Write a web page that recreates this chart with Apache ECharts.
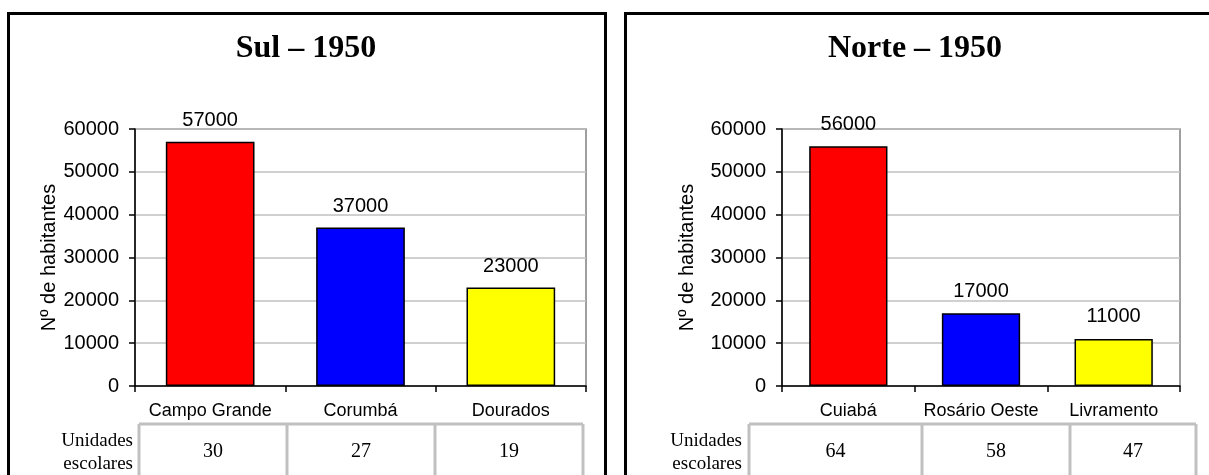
<!DOCTYPE html>
<html>
<head>
<meta charset="utf-8">
<script src="https://cdn.jsdelivr.net/npm/echarts@6/dist/echarts.min.js"></script>
<style>
  html, body { margin: 0; padding: 0; background: #fff; }
  #chart { width: 1209px; height: 475px; }
</style>
</head>
<body>
<div id="chart"></div>
<script>
// Population of the main towns, 1950, with number of schools per town
const sulTitle = 'Sul – 1950';
const norteTitle = 'Norte – 1950';
const sulCities = ['Campo Grande', 'Corumbá', 'Dourados'];
const sulPop = [57000, 37000, 23000];
const sulSchools = [30, 27, 19];
const norteCities = ['Cuiabá', 'Rosário Oeste', 'Livramento'];
const nortePop = [56000, 17000, 11000];
const norteSchools = [64, 58, 47];
const barColors = ['#ff0000', '#0000ff', '#ffff00'];
const yAxisName = 'Nº de habitantes';
const rowHeader = ['Unidades', 'escolares'];

const SANS = '"Liberation Sans", Arial, sans-serif';
const SERIF = '"Liberation Serif", "Times New Roman", serif';

const chart = echarts.init(document.getElementById('chart'), null, { renderer: 'canvas' });

function yAxis(gridIndex, nameGap) {
  return {
    type: 'value', gridIndex, min: 0, max: 60000, interval: 10000,
    name: yAxisName, nameLocation: 'middle', nameRotate: 90, nameGap,
    nameTextStyle: { fontFamily: SANS, fontSize: 20, color: '#000' },
    axisLine: { show: true, lineStyle: { color: '#000', width: 1.5 } },
    axisTick: { show: true, length: 6, lineStyle: { color: '#000', width: 1.5 } },
    axisLabel: { fontFamily: SANS, fontSize: 20, color: '#000', margin: 16, formatter: v => String(v) },
    splitLine: { show: true, lineStyle: { color: '#c0c0c0', width: 1.5 } }
  };
}

function xAxis(gridIndex, cats) {
  return {
    type: 'category', gridIndex, data: cats,
    axisLine: { show: true, lineStyle: { color: '#000', width: 1.5 } },
    axisTick: { show: true, length: 6, alignWithLabel: false, lineStyle: { color: '#000', width: 1.5 } },
    axisLabel: { fontFamily: SANS, fontSize: 18, color: '#000', margin: 16, interval: 0 }
  };
}

function barSeries(idx, values, dist) {
  return {
    type: 'bar', xAxisIndex: idx, yAxisIndex: idx,
    barCategoryGap: '41%',
    data: values.map((v, i) => ({ value: v, itemStyle: { color: barColors[i] } })),
    itemStyle: { borderColor: '#000', borderWidth: 1.5 },
    label: { show: true, position: 'top', distance: dist, fontFamily: SANS, fontSize: 20, color: '#000' },
    animation: false
  };
}

// Table under each chart: header cell on the left, one cell per town
function tableGraphics(cols, top, schools, headerRight) {
  const els = [];
  const stroke = { stroke: '#c0c0c0', lineWidth: 3 };
  const bottom = 490;
  els.push({ type: 'line', shape: { x1: cols[0], y1: top, x2: cols[cols.length - 1], y2: top }, style: stroke });
  cols.forEach(cx => {
    els.push({ type: 'line', shape: { x1: cx, y1: top, x2: cx, y2: bottom }, style: stroke });
  });
  schools.forEach((n, i) => {
    els.push({
      type: 'text', x: (cols[i] + cols[i + 1]) / 2, y: 452,
      style: { text: String(n), font: '20px ' + SERIF, fill: '#000', align: 'center', verticalAlign: 'middle' }
    });
  });
  rowHeader.forEach((t, i) => {
    els.push({
      type: 'text', x: headerRight, y: 441 + i * 23,
      style: { text: t, font: '19px ' + SERIF, fill: '#000', align: 'right', verticalAlign: 'middle' }
    });
  });
  return els;
}

const graphics = [
  { type: 'rect', shape: { x: 8.5, y: 13.5, width: 597, height: 500 }, style: { fill: 'none', stroke: '#000', lineWidth: 3 }, z: 10 },
  { type: 'rect', shape: { x: 625.5, y: 13.5, width: 620, height: 500 }, style: { fill: 'none', stroke: '#000', lineWidth: 3 }, z: 10 }
].concat(
  tableGraphics([139, 287, 435, 583], 424, sulSchools, 133),
  tableGraphics([749, 922, 1070, 1196], 424, norteSchools, 742)
);

chart.setOption({
  backgroundColor: '#fff',
  animation: false,
  title: [
    { text: sulTitle, left: 301, top: 28, textAlign: 'center',
      textStyle: { fontFamily: SERIF, fontSize: 32, fontWeight: 'bold', color: '#000' } },
    { text: norteTitle, left: 910, top: 28, textAlign: 'center',
      textStyle: { fontFamily: SERIF, fontSize: 32, fontWeight: 'bold', color: '#000' } }
  ],
  grid: [
    { left: 135, right: 623, top: 129, bottom: 89, show: true, borderColor: '#808080', borderWidth: 1.5, backgroundColor: 'transparent' },
    { left: 782, right: 29, top: 129, bottom: 89, show: true, borderColor: '#808080', borderWidth: 1.5, backgroundColor: 'transparent' }
  ],
  xAxis: [xAxis(0, sulCities), xAxis(1, norteCities)],
  yAxis: [yAxis(0, 75), yAxis(1, 85)],
  series: [barSeries(0, sulPop, 11), barSeries(1, nortePop, 12)],
  graphic: graphics
});
</script>
</body>
</html>
